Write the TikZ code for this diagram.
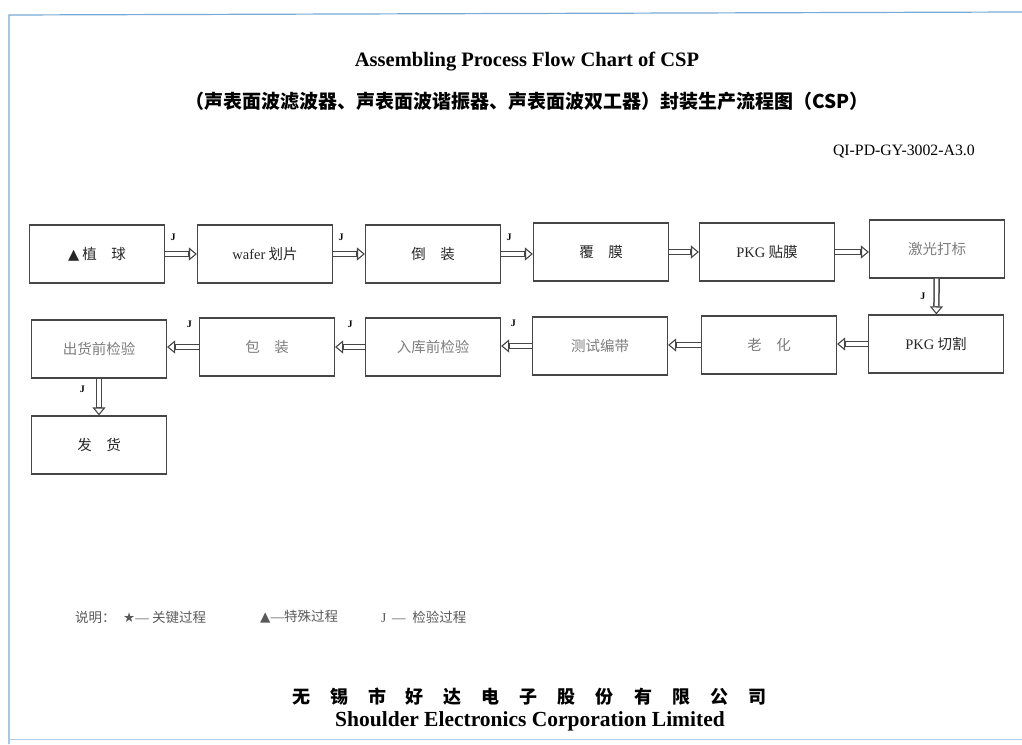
\documentclass[tikz,border=0pt]{standalone}
\usepackage{fontspec}
\setmainfont{Liberation Serif}
\newfontfamily\cjk{Noto Sans CJK SC}
\newfontfamily\symf{DejaVu Sans}
\usetikzlibrary{arrows.meta, positioning}
\definecolor{frameblue}{RGB}{120, 170, 215}
\definecolor{boxgray}{RGB}{70, 70, 70}
\definecolor{fadedtext}{RGB}{125, 125, 125}

\begin{document}
\begin{tikzpicture}[x=1pt, y=-1pt,
    stepbox/.style={draw=boxgray, line width=1.2pt, minimum width=135pt, minimum height=58pt,
        font=\fontsize{14.5}{16}\selectfont\cjk, text=black!85},
    faded/.style={text=fadedtext},
    flow/.style={draw=boxgray, line width=6.4pt,
        -{Triangle[open, length=8pt, width=13pt, line width=1.1pt]},
        postaction={draw=white, line width=3.4pt, -, shorten >=8.5pt}},
    jmark/.style={font=\fontsize{10}{12}\selectfont\bfseries, inner sep=1pt},
    legend/.style={font=\fontsize{13.5}{15}\selectfont, text=black!65, inner sep=0pt}]
\useasboundingbox (0,0) rectangle (1022,744);
% frame of the sheet
\draw[frameblue, line width=1.2pt] (9,744) -- (9,15) -- (1022,12);
\draw[frameblue!60, line width=1pt] (9,739) -- (1022,739);

% headings
\node[font=\fontsize{20.5}{23}\selectfont\bfseries] (title) at (527,62) {Assembling Process Flow Chart of CSP};
\node[font=\fontsize{19}{22}\selectfont\cjk\bfseries] (subtitle) at (527,101)
    {（声表面波滤波器、声表面波谐振器、声表面波双工器）封装生产流程图（CSP）};
\node[font=\fontsize{15.8}{18}\selectfont, anchor=east, inner sep=0pt] (docno) at (975,152) {QI-PD-GY-3002-A3.0};

% first row
\node[stepbox] (ball) at (97,254) {{\symf ▲}\ 植\quad 球};
\node[stepbox] (dicing) at (265,254) {{\rmfamily wafer} 划片};
\node[stepbox] (flip) at (433,254) {倒\quad 装};
\node[stepbox] (film) at (601,252) {覆\quad 膜};
\node[stepbox] (pkgfilm) at (767,252) {{\rmfamily PKG} 贴膜};
\node[stepbox, faded] (laser) at (937,249) {激光打标};

% second row
\node[stepbox] (pkgcut) at (936,344) {{\rmfamily PKG} 切割};
\node[stepbox, faded] (aging) at (769,345) {老\quad 化};
\node[stepbox, faded] (test) at (600,346) {测试编带};
\node[stepbox, faded] (instore) at (433,347) {入库前检验};
\node[stepbox, faded] (packing) at (267,347) {包\quad 装};
\node[stepbox, faded] (outgoing) at (99,349) {出货前检验};
\node[stepbox] (ship) at (99,445) {发\quad 货};

% connectors
\draw[flow] (ball) -- (dicing) node[jmark, pos=0.25, above=9pt] {J};
\draw[flow] (dicing) -- (flip) node[jmark, pos=0.25, above=9pt] {J};
\draw[flow] (flip.east) -- (film.west |- flip.east) node[jmark, pos=0.25, above=9pt] {J};
\draw[flow] (film) -- (pkgfilm);
\draw[flow] (pkgfilm.east) -- (laser.west |- pkgfilm.east);
\draw[flow] (laser) -- (pkgcut) node[jmark, pos=0.5, left=7pt] {J};
\draw[flow] (pkgcut.west) -- (aging.east |- pkgcut.west);
\draw[flow] (aging.west) -- (test.east |- aging.west);
\draw[flow] (test.west) -- (instore.east |- test.west) node[jmark, pos=0.6, above=15pt] {J};
\draw[flow] (instore) -- (packing) node[jmark, pos=0.5, above=15pt] {J};
\draw[flow] (packing.west) -- (outgoing.east |- packing.west) node[jmark, pos=0.3, above=15pt] {J};
\draw[flow] (outgoing) -- (ship) node[jmark, pos=0.3, left=10pt] {J};

% legend
\node[legend, anchor=west] (note) at (75,617) {\cjk 说明：};
\node[legend, anchor=west] (keyproc) at (123,617) {{\symf ★}— {\cjk 关键过程}};
\node[legend, anchor=west] (specproc) at (260,617) {{\symf ▲}—{\cjk 特殊过程}};
\node[legend, anchor=west] (checkproc) at (381,617) {J \,—\ \ {\cjk 检验过程}};

% company
\node[font=\fontsize{18}{21}\selectfont\cjk\bfseries] (company) at (529,697)
    {无\hspace{20pt}锡\hspace{20pt}市\hspace{20pt}好\hspace{20pt}达\hspace{20pt}电\hspace{20pt}子\hspace{20pt}股\hspace{20pt}份\hspace{20pt}有\hspace{20pt}限\hspace{20pt}公\hspace{20pt}司};
\node[font=\fontsize{21.5}{24}\selectfont\bfseries] (companyen) at (530,721) {Shoulder Electronics Corporation Limited};
\end{tikzpicture}
\end{document}
